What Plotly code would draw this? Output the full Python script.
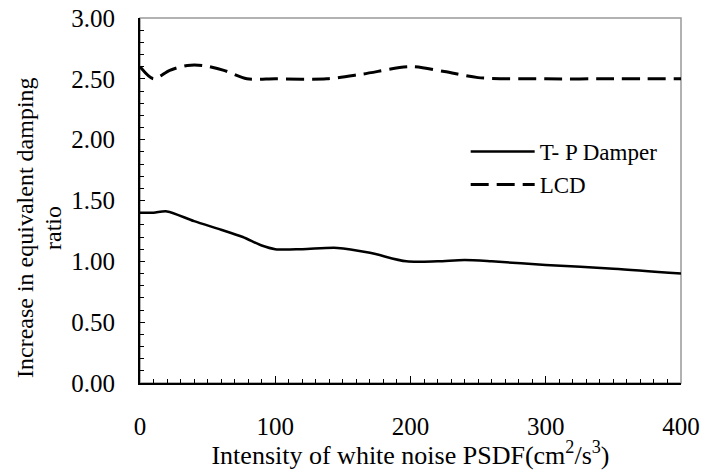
import plotly.graph_objects as go

# Data
tp_x = [0, 10, 20, 40, 60, 76, 90, 100, 120, 146, 170, 197, 220, 240, 260, 300, 350, 400]
tp_y = [1.40, 1.40, 1.41, 1.33, 1.26, 1.20, 1.13, 1.10, 1.10, 1.11, 1.07, 1.00, 1.00, 1.01, 1.00, 0.97, 0.94, 0.90]

lcd_x = [0, 10, 22, 35, 46, 62, 79, 100, 138, 165, 200, 225, 250, 300, 350, 400]
lcd_y = [2.60, 2.50, 2.57, 2.61, 2.61, 2.57, 2.50, 2.50, 2.50, 2.54, 2.60, 2.56, 2.51, 2.50, 2.50, 2.50]

series_names = ["T- P Damper", "LCD"]
x_ticks = [0, 100, 200, 300, 400]
y_ticks = [0, 0.5, 1.0, 1.5, 2.0, 2.5, 3.0]
x_title = "Intensity of white noise PSDF(cm<sup>2</sup>/s<sup>3</sup>)"
y_title_lines = ["Increase in equivalent damping", "ratio"]

FONT = "Times New Roman, Liberation Serif, DejaVu Serif, serif"

fig = go.Figure()
fig.add_trace(go.Scatter(x=tp_x, y=tp_y, mode="lines", name=series_names[0],
                         line=dict(color="black", width=2.5, shape="spline", smoothing=0.8)))
fig.add_trace(go.Scatter(x=lcd_x, y=lcd_y, mode="lines", name=series_names[1],
                         line=dict(color="black", width=3, shape="spline", smoothing=0.8,
                                   dash="18px,8px")))

title_x_px = [25, 53]
annotations = [dict(text=t, xref="paper", yref="paper", x=(px - 140) / 541, y=0.4247,
                    xanchor="center", yanchor="middle", textangle=-90, showarrow=False,
                    font=dict(family=FONT, size=24))
               for t, px in zip(y_title_lines, title_x_px)]

fig.update_layout(
    width=701, height=470,
    margin=dict(l=140, r=20, t=18, b=87, autoexpand=False),
    paper_bgcolor="white", plot_bgcolor="white",
    font=dict(family=FONT, size=24, color="black"),
    showlegend=True,
    legend=dict(x=0.602, y=0.693, xanchor="left", yanchor="top",
                bgcolor="rgba(0,0,0,0)", font=dict(family=FONT, size=23),
                itemwidth=64, tracegroupgap=0),
    shapes=[dict(type="rect", xref="paper", yref="paper", x0=0, x1=1, y0=0, y1=1,
                 line=dict(color="#999999", width=1.5), layer="below")],
    annotations=annotations,
)

fig.update_xaxes(
    range=[0, 400], tickvals=x_ticks, ticks="inside", ticklen=7, tickwidth=1,
    tickcolor="black", showline=True, linecolor="black", linewidth=1.5,
    showgrid=False, zeroline=False, ticklabelstandoff=20, automargin=False,
    tickfont=dict(family=FONT, size=25),
    minor=dict(dtick=10, ticks="inside", ticklen=4, tickcolor="black", showgrid=False),
    title=dict(text=x_title, font=dict(family=FONT, size=26), standoff=4),
)
fig.update_yaxes(
    range=[0, 3], tickvals=y_ticks, tickformat=".2f", ticks="inside", ticklen=5,
    tickwidth=1, tickcolor="black", showline=True, linecolor="black", linewidth=2,
    showgrid=False, zeroline=False, ticklabelstandoff=18, automargin=False,
    tickfont=dict(family=FONT, size=25),
    minor=dict(dtick=0.1, ticks="inside", ticklen=4, tickcolor="black", showgrid=False),
)

fig.write_html("out.html")
